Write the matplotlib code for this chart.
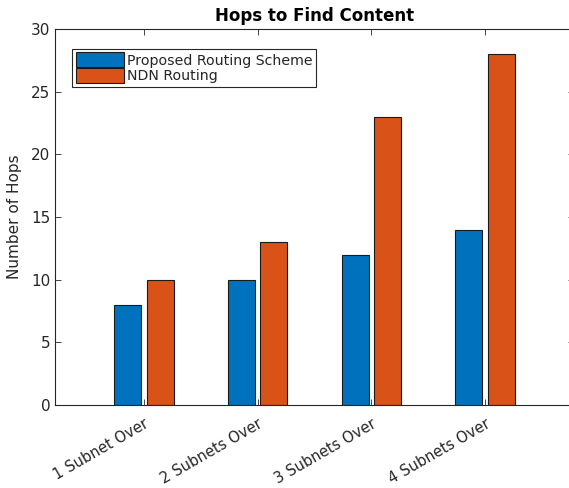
import matplotlib
matplotlib.use("Agg")
import matplotlib.pyplot as plt
import numpy as np

categories = ["1 Subnet Over", "2 Subnets Over", "3 Subnets Over", "4 Subnets Over"]
proposed = [8, 10, 12, 14]
ndn = [10, 13, 23, 28]
series_names = ["Proposed Routing Scheme", "NDN Routing"]

blue = (0/255, 114/255, 189/255)
orange = (217/255, 83/255, 25/255)
txt = (0.15, 0.15, 0.15)

plt.rcParams['font.family'] = ['DejaVu Sans']
fig = plt.figure(figsize=(5.69, 4.88), dpi=100)
ax = fig.add_axes([55/569, 1-405/488, 519/569, 376/488])

x = np.arange(1, len(categories)+1)
w = 0.237
off = 0.143
ax.bar(x-off, proposed, w, color=blue, edgecolor=(0.1, 0.1, 0.1), linewidth=0.8, label=series_names[0])
ax.bar(x+off, ndn, w, color=orange, edgecolor=(0.1, 0.1, 0.1), linewidth=0.8, label=series_names[1])

ax.set_xlim(0.22, 4.78)
ax.set_ylim(0, 30)
ax.set_yticks(range(0, 31, 5))
ax.set_xticks(x)
ax.set_xticklabels(categories, rotation=30, ha='right', rotation_mode='anchor', fontsize=10.6, color=txt)
ax.tick_params(axis='y', labelsize=11)
ax.tick_params(axis='both', direction='in', top=True, right=True, length=4, width=0.6, colors=txt)
ax.tick_params(axis='x', pad=8)
for s in ax.spines.values():
    s.set_color(txt)
    s.set_linewidth(0.8)

ax.set_title("Hops to Find Content", fontsize=12, fontweight='bold', color='black', pad=6)
ax.set_ylabel("Number of Hops", fontsize=11, color=txt, labelpad=6)

leg = ax.legend(loc='upper left', bbox_to_anchor=(0.033, 0.947), fontsize=10.2, frameon=True, fancybox=False,
                edgecolor=txt, framealpha=1, handlelength=3.4, handleheight=1.2, handletextpad=0.2,
                borderpad=0.25, labelspacing=0.05, borderaxespad=0)
leg.get_frame().set_linewidth(0.8)
for t in leg.get_texts():
    t.set_color(txt)

fig.savefig("out.png", dpi=100)
